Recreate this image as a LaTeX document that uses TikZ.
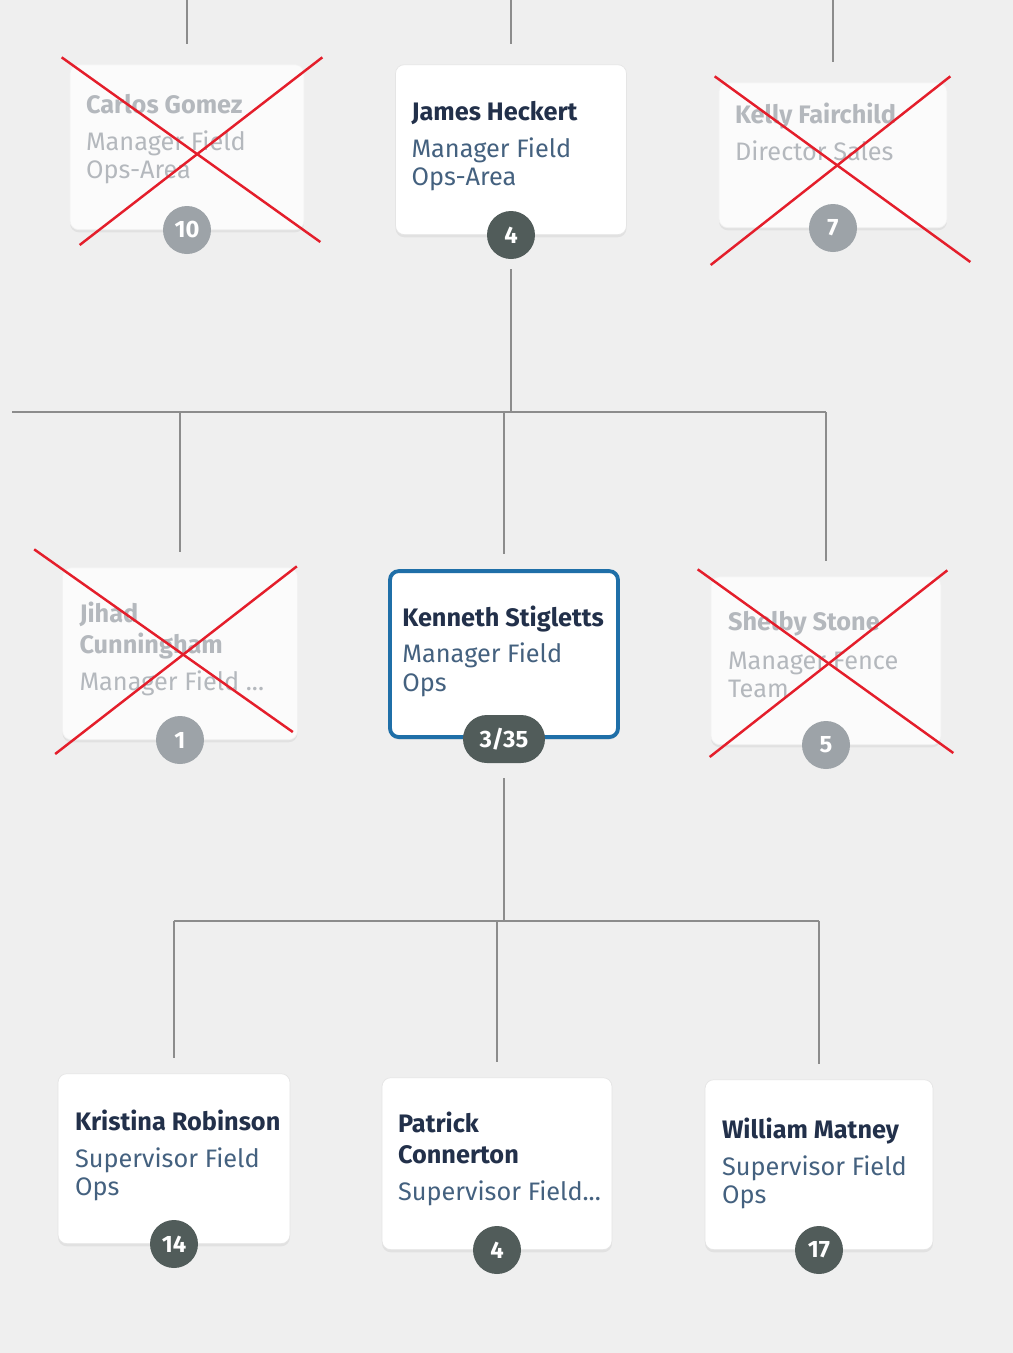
\documentclass[tikz,border=0pt]{standalone}
\usepackage{fontspec}
\setmainfont{Fira Sans}
\newcommand{\namefont}{\bfseries}
\newcommand{\rolefont}{\mdseries}
\usetikzlibrary{positioning,shadows}

\definecolor{paper}{HTML}{EFEFEF}
\definecolor{nametext}{HTML}{22304A}
\definecolor{roletext}{HTML}{44617F}
\definecolor{fadetext}{HTML}{B4B8BD}
\definecolor{badgedark}{HTML}{515C5A}
\definecolor{badgefade}{HTML}{9DA3A8}
\definecolor{focusblue}{HTML}{1F6FA8}
\definecolor{wiregray}{HTML}{8C8C8C}
\definecolor{crossred}{HTML}{E41E2B}

\begin{document}
\begin{tikzpicture}[x=0.02cm,y=-0.02cm,
   card/.style={draw=black!10, fill=white, rounded corners=5pt, minimum width=4.62cm,
      minimum height=3.4cm, inner sep=0pt,
      drop shadow={opacity=0.12, shadow xshift=0pt, shadow yshift=-1.5pt}},
   gone/.style={card, draw=black!5, fill=white!75!paper},
   focus/.style={card, draw=focusblue, line width=2.2pt},
   info/.style={anchor=north west, align=left, inner sep=0pt,
      font=\rolefont\fontsize{14.4}{16}\selectfont, text=roletext},
   fadeinfo/.style={info, text=fadetext},
   badge/.style={circle, fill=badgedark, text=white, minimum size=0.96cm, inner sep=0pt,
      font=\bfseries\fontsize{13.5}{13.5}\selectfont},
   fadebadge/.style={badge, fill=badgefade},
   pill/.style={rectangle, fill=badgedark, text=white, rounded corners=0.48cm,
      minimum width=1.64cm, minimum height=0.96cm, inner sep=0pt,
      font=\bfseries\fontsize{13.5}{13.5}\selectfont},
   wire/.style={draw=wiregray, line width=0.8pt},
   cross/.style={draw=crossred, line width=1.4pt}]

   % page
   \fill[paper] (0,0) rectangle (1013,1353);
   \useasboundingbox (0,0) rectangle (1013,1353);
   \coordinate (edge) at (0,0);

   % top row
   \node[gone, anchor=south, minimum height=3.3cm, minimum width=4.68cm] (c1) at (187,230) {};
   \node[card, anchor=south, minimum width=4.62cm] (c2) at (511,235) {};
   \node[gone, anchor=south, minimum height=2.9cm, minimum width=4.56cm] (c3) at (833,228) {};

   \node[fadeinfo] (t1) at ([shift={(16,30)}]c1.north west)
      {{\namefont Carlos Gomez}\\[5pt]Manager Field\\Ops-Area};
   \node[info] (t2) at ([shift={(16,37)}]c2.north west)
      {{\namefont\color{nametext}James Heckert}\\[5pt]Manager Field\\Ops-Area};
   \node[fadeinfo] (t3) at ([shift={(16,20)}]c3.north west)
      {{\namefont Kelly Fairchild}\\[5pt]Director Sales};

   \node[fadebadge] (b1) at (c1.south) {10};
   \node[badge] (b2) at (c2.south) {4};
   \node[fadebadge] (b3) at (c3.south) {7};

   % middle row
   \node[gone, anchor=south, minimum width=4.7cm, minimum height=3.44cm] (c4) at (180,740) {};
   \node[focus, anchor=south, minimum width=4.56cm, minimum height=3.32cm] (c5) at (504,739) {};
   \node[gone, anchor=south, minimum width=4.6cm, minimum height=3.36cm] (c6) at (826,745) {};

   \node[fadeinfo] (t4) at ([shift={(17,34)}]c4.north west)
      {{\namefont Jihad}\\[2pt]{\namefont Cunningham}\\[5pt]Manager Field ...};
   \node[info] (t5) at ([shift={(14,36)}]c5.north west)
      {{\namefont\color{nametext}Kenneth Stigletts}\\[5pt]Manager Field\\Ops};
   \node[fadeinfo] (t6) at ([shift={(17,35)}]c6.north west)
      {{\namefont Shelby Stone}\\[6pt]Manager Fence\\Team};

   \node[fadebadge] (b4) at (c4.south) {1};
   \node[pill] (b5) at (c5.south) {3/35};
   \node[fadebadge] (b6) at (c6.south) {5};

   % bottom row
   \node[card, anchor=south, minimum width=4.64cm] (c7) at (174,1244) {};
   \node[card, anchor=south, minimum width=4.6cm, minimum height=3.44cm] (c8) at (497,1250) {};
   \node[card, anchor=south, minimum width=4.56cm] (c9) at (819,1250) {};

   \node[info] (t7) at ([shift={(17,36)}]c7.north west)
      {{\namefont\color{nametext}Kristina Robinson}\\[5pt]Supervisor Field\\Ops};
   \node[info] (t8) at ([shift={(16,34)}]c8.north west)
      {{\namefont\color{nametext}Patrick}\\[2pt]{\namefont\color{nametext}Connerton}\\[5pt]Supervisor Field...};
   \node[info] (t9) at ([shift={(17,38)}]c9.north west)
      {{\namefont\color{nametext}William Matney}\\[5pt]Supervisor Field\\Ops};

   \node[badge] (b7) at (c7.south) {14};
   \node[badge] (b8) at (c8.south) {4};
   \node[badge] (b9) at (c9.south) {17};

   % connectors
   \foreach \c in {c1,c2,c3}
      \draw[wire, shorten >=0.4cm] (\c.north |- edge) -- (\c.north);

   \coordinate (busL) at (12,412);
   \coordinate (busA) at (b2.south |- busL);
   \draw[wire, shorten <=0.2cm] (b2.south) -- (busA);
   \draw[wire] (busL) -- (busA -| c6.north);
   \foreach \c in {c4,c5,c6}
      \draw[wire, shorten >=0.3cm] (busA -| \c.north) -- (\c.north);

   \coordinate (busB) at ([yshift=-3.15cm]b5.south);
   \draw[wire, shorten <=0.3cm] (b5.south) -- (busB);
   \draw[wire] (busB -| c7.north) -- (busB -| c9.north);
   \foreach \c in {c7,c8,c9}
      \draw[wire, shorten >=0.3cm] (busB -| \c.north) -- (\c.north);

   % crossed out
   \draw[cross] ([shift={(-8,-7)}]c1.north west) -- ([shift={(16,12)}]c1.south east);
   \draw[cross] ([shift={(10,15)}]c1.south west) -- ([shift={(18,-7)}]c1.north east);
   \draw[cross] ([shift={(-4,-6)}]c3.north west) -- ([shift={(23,34)}]c3.south east);
   \draw[cross] ([shift={(-8,37)}]c3.south west) -- ([shift={(3,-6)}]c3.north east);
   \draw[cross] ([shift={(-28,-18)}]c4.north west) -- ([shift={(-5,-8)}]c4.south east);
   \draw[cross] ([shift={(-7,14)}]c4.south west) -- ([shift={(-1,-1)}]c4.north east);
   \draw[cross] ([shift={(-13,-7)}]c6.north west) -- ([shift={(12,8)}]c6.south east);
   \draw[cross] ([shift={(-1,12)}]c6.south west) -- ([shift={(6,-6)}]c6.north east);
\end{tikzpicture}
\end{document}
